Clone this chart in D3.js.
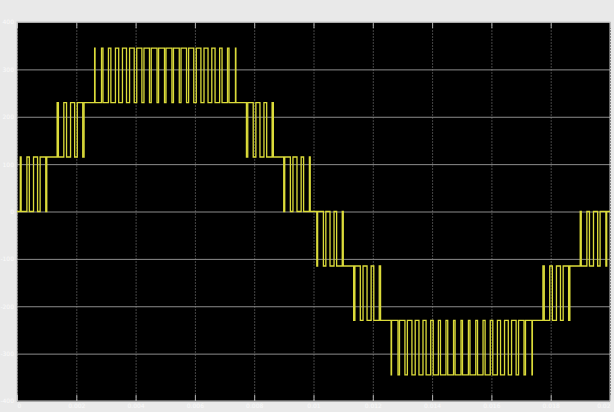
<!DOCTYPE html>
<html>
<head>
<meta charset="utf-8">
<script src="https://cdn.jsdelivr.net/npm/d3@7"></script>
<style>
  html, body { margin: 0; padding: 0; background: #e9e9e9; }
  svg { display: block; }
</style>
</head>
<body>
<svg id="chart" width="614" height="412"></svg>
<script>
// ---- data (time in ms, level index; one level = levelVolts) ----
const xTicks = [0, 2, 4, 6, 8, 10, 12, 14, 16, 18, 20];
const xTickLabels = ["0", "0.002", "0.004", "0.006", "0.008", "0.01", "0.012", "0.014", "0.016", "0.018", "0.02"];
const yTicks = [400, 300, 200, 100, 0, -100, -200, -300, -400];
const yTickLabels = ["400", "300", "200", "100", "0", "-100", "-200", "-300", "-400"];
const levelVolts = 115;

// switching instants [time ms, level after switch]
const quarter1 = [
  [0, 0],
  [0.111, 1], [0.139, 0], [0.334, 1], [0.416, 0], [0.557, 1], [0.693, 0], [0.780, 1], [0.970, 0], [1.004, 1],
  [1.354, 2], [1.396, 1], [1.579, 2], [1.671, 1], [1.806, 2], [1.944, 1], [2.033, 2], [2.217, 1], [2.262, 2],
  [2.618, 3], [2.632, 2], [2.850, 3], [2.900, 2], [3.084, 3], [3.166, 2], [3.320, 3], [3.430, 2],
  [3.557, 3], [3.693, 2], [3.797, 3], [3.953, 2], [4.038, 3], [4.212, 2], [4.282, 3], [4.468, 2],
  [4.527, 3], [4.723, 2], [4.775, 3], [4.975, 2]
];
const quarter2 = [
  [5.025, 3], [5.225, 2], [5.277, 3], [5.473, 2], [5.532, 3], [5.718, 2], [5.788, 3], [5.962, 2],
  [6.047, 3], [6.203, 2], [6.307, 3], [6.443, 2], [6.570, 3], [6.680, 2], [6.834, 3], [6.916, 2],
  [7.100, 3], [7.150, 2], [7.368, 3], [7.382, 2],
  [7.738, 1], [7.783, 2], [7.967, 1], [8.056, 2], [8.194, 1], [8.329, 2], [8.421, 1], [8.604, 2], [8.646, 1],
  [8.996, 0], [9.030, 1], [9.220, 0], [9.307, 1], [9.443, 0], [9.584, 1], [9.666, 0], [9.861, 1], [9.889, 0]
];
const quarter3 = [
  [10.111, -1], [10.139, 0], [10.334, -1], [10.416, 0], [10.557, -1], [10.693, 0], [10.780, -1], [10.970, 0], [11.004, -1],
  [11.354, -2], [11.396, -1], [11.579, -2], [11.671, -1], [11.806, -2], [11.944, -1], [12.033, -2], [12.217, -1], [12.262, -2],
  [12.618, -3], [12.632, -2], [12.850, -3], [12.900, -2], [13.084, -3], [13.166, -2], [13.320, -3], [13.430, -2],
  [13.557, -3], [13.693, -2], [13.797, -3], [13.953, -2], [14.038, -3], [14.212, -2], [14.282, -3], [14.468, -2],
  [14.527, -3], [14.723, -2], [14.775, -3], [14.975, -2]
];
const quarter4 = [
  [15.025, -3], [15.225, -2], [15.277, -3], [15.473, -2], [15.532, -3], [15.718, -2], [15.788, -3], [15.962, -2],
  [16.047, -3], [16.203, -2], [16.307, -3], [16.443, -2], [16.570, -3], [16.680, -2], [16.834, -3], [16.916, -2],
  [17.100, -3], [17.150, -2], [17.368, -3], [17.382, -2],
  [17.738, -1], [17.783, -2], [17.967, -1], [18.056, -2], [18.194, -1], [18.329, -2], [18.421, -1], [18.604, -2], [18.646, -1],
  [18.996, 0], [19.030, -1], [19.220, 0], [19.307, -1], [19.443, 0], [19.584, -1], [19.666, 0], [19.861, -1], [19.889, 0],
  [20, 0]
];

// ---- layout ----
const W = 614, H = 412;
const margin = { left: 17, top: 22, right: 4, bottom: 11 };
const pw = W - margin.left - margin.right;
const ph = H - margin.top - margin.bottom;

const svg = d3.select("#chart");
svg.append("rect").attr("width", W).attr("height", H).attr("fill", "#e9e9e9");

const g = svg.append("g").attr("transform", `translate(${margin.left},${margin.top})`);

const x = d3.scaleLinear().domain([0, 20]).range([0, pw]);
const y = d3.scaleLinear().domain([-400, 400]).range([ph, 0]);

g.append("rect").attr("width", pw).attr("height", ph).attr("fill", "#000");

// vertical grid (dim, dotted)
const xGrid = g.append("g").attr("transform", `translate(0,${ph})`)
  .call(d3.axisBottom(x).tickValues(xTicks).tickSize(-ph).tickFormat(""));
xGrid.select(".domain").remove();
xGrid.selectAll("line").attr("stroke", "#454545").attr("stroke-width", 1).attr("stroke-dasharray", "2,1");

// horizontal grid (brighter)
const yGrid = g.append("g")
  .call(d3.axisLeft(y).tickValues(yTicks).tickSize(-pw).tickFormat(""));
yGrid.select(".domain").remove();
yGrid.selectAll("line").attr("stroke", "#8c8c8c").attr("stroke-width", 1);

// small tick marks at bottom / top with labels
const xAxisB = g.append("g").attr("transform", `translate(0,${ph})`)
  .call(d3.axisBottom(x).tickValues(xTicks).tickSize(-6).tickPadding(4)
    .tickFormat((d, i) => xTickLabels[i]));
xAxisB.select(".domain").remove();
xAxisB.selectAll("line").attr("stroke", "#b0b0b0");
xAxisB.selectAll("text").attr("fill", "#fafafa").attr("font-size", 6)
  .attr("font-family", "DejaVu Sans, sans-serif").attr("dy", "0.5em")
  .attr("text-anchor", (d, i) => i === 0 ? "start" : (i === xTicks.length - 1 ? "end" : "middle"));

const xAxisT = g.append("g")
  .call(d3.axisTop(x).tickValues(xTicks).tickSize(-6).tickFormat(""));
xAxisT.select(".domain").remove();
xAxisT.selectAll("line").attr("stroke", "#b0b0b0");

const yAxisL = g.append("g")
  .call(d3.axisLeft(y).tickValues(yTicks).tickSize(0).tickPadding(3)
    .tickFormat((d, i) => yTickLabels[i]));
yAxisL.select(".domain").remove();
yAxisL.selectAll("text").attr("fill", "#fafafa").attr("font-size", 6)
  .attr("font-family", "DejaVu Sans, sans-serif");

// plot frame
g.append("rect").attr("width", pw).attr("height", ph)
  .attr("fill", "none").attr("stroke", "#c8c8c8").attr("stroke-width", 1);

// waveform
const points = quarter1.concat(quarter2, quarter3, quarter4);
const line = d3.line()
  .x(d => x(d[0]))
  .y(d => y(d[1] * levelVolts))
  .curve(d3.curveStepAfter);

g.append("path")
  .datum(points)
  .attr("fill", "none")
  .attr("stroke", "#dcdc3a")
  .attr("stroke-width", 1.3)
  .attr("d", line);
</script>
</body>
</html>
